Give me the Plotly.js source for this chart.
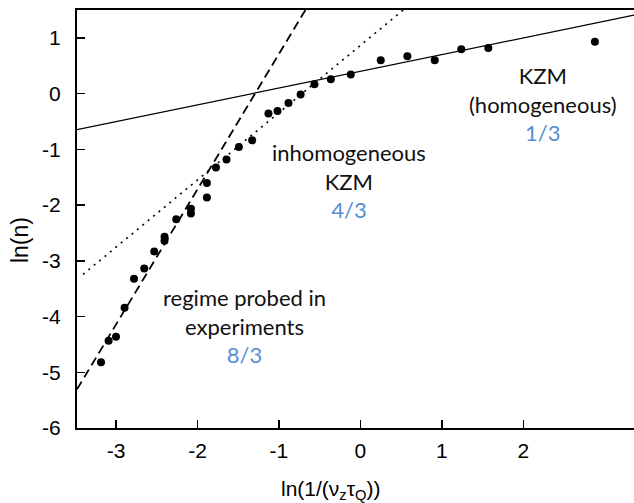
<!DOCTYPE html>
<html>
<head>
<meta charset="utf-8">
<script src="https://cdn.plot.ly/plotly-3.0.1.min.js"></script>
<style>html,body{margin:0;padding:0;background:#fff;}#chart{width:634px;height:503px;}</style>
</head>
<body>
<div id="chart"></div>
<script>
// Measured data points: ln(1/(nu_z tau_Q)) vs ln(n)
const lnInvRate = [-3.185, -3.092, -3.001, -2.896, -2.780, -2.654, -2.531, -2.405, -2.405, -2.261,
                   -2.081, -2.081, -1.885, -1.885, -1.774, -1.644, -1.492, -1.329, -1.129, -1.018,
                   -0.883, -0.734, -0.564, -0.363, -0.118, 0.250, 0.577, 0.913, 1.239, 1.571, 2.880];
const lnDensity = [-4.821, -4.434, -4.362, -3.842, -3.323, -3.136, -2.832, -2.570, -2.642, -2.253,
                   -2.068, -2.151, -1.602, -1.864, -1.326, -1.183, -0.957, -0.837, -0.358, -0.312,
                   -0.168, -0.016, 0.167, 0.256, 0.341, 0.597, 0.668, 0.597, 0.794, 0.817, 0.932];

// Guide lines (endpoints): homogeneous KZM (1/3), inhomogeneous KZM (4/3), experimental regime (8/3)
const homogLineX = [-3.48, 3.36];
const homogLineY = [-0.645, 1.407];
const inhomLineX = [-3.406, 0.527];
const inhomLineY = [-3.244, 1.5];
const expLineX = [-3.48, -0.675];
const expLineY = [-5.306, 1.5];

// Tick labels
const xTicks = [-3, -2, -1, 0, 1, 2];
const yTicks = [-6, -5, -4, -3, -2, -1, 0, 1];

// Text labels
const regionLabels = [
  {lines: ['inhomogeneous', 'KZM'], exponent: '4/3', x: -0.139, y: -1.572},
  {lines: ['regime probed in', 'experiments'], exponent: '8/3', x: -1.425, y: -4.161},
  {lines: ['KZM', '(homogeneous)'], exponent: '1/3', x: 2.242, y: -0.183}
];

const blue = '#558ED5';
const annFont = {family: 'Lato, "Open Sans", sans-serif', size: 22, color: '#111'};
const axisFont = '"Liberation Sans", Arial, sans-serif';

const traces = [
  {x: homogLineX, y: homogLineY, mode: 'lines', line: {color: '#000', width: 1.3}, hoverinfo: 'skip'},
  {x: inhomLineX, y: inhomLineY, mode: 'lines', line: {color: '#000', width: 1.6, dash: '2px,5px'}, hoverinfo: 'skip'},
  {x: expLineX, y: expLineY, mode: 'lines', line: {color: '#000', width: 1.8, dash: '9px,5px'}, hoverinfo: 'skip'},
  {x: lnInvRate, y: lnDensity, mode: 'markers', marker: {color: '#000', size: 8}}
];

const annotations = regionLabels.map(r => ({
  x: r.x, y: r.y, xref: 'x', yref: 'y', showarrow: false, align: 'center', font: annFont,
  text: r.lines.join('<br>') + '<br><span style="color:' + blue + '">' + r.exponent + '</span>'
}));
annotations.push({
  x: 0.456, y: -0.148, xref: 'paper', yref: 'paper', xanchor: 'center', yanchor: 'middle',
  showarrow: false, font: {family: axisFont, size: 21, color: '#000'},
  text: 'ln(1/(ν<sub>z</sub>τ<sub>Q</sub>))'
});
annotations.push({
  x: -0.102, y: 0.45, xref: 'paper', yref: 'paper', xanchor: 'center', yanchor: 'middle',
  textangle: -90, showarrow: false, font: {family: axisFont, size: 23, color: '#000'},
  text: 'ln(n)'
});

const layout = {
  width: 634, height: 503,
  margin: {l: 77, r: 0, t: 10, b: 75},
  paper_bgcolor: '#fff', plot_bgcolor: '#fff',
  showlegend: false,
  hovermode: false,
  font: {family: axisFont, size: 21, color: '#000'},
  xaxis: {
    range: [-3.48, 3.36], tickvals: xTicks, ticktext: xTicks.map(String),
    ticks: 'inside', ticklen: 8, tickwidth: 1.5, tickcolor: '#000',
    showline: true, linecolor: '#000', linewidth: 2, mirror: true,
    showgrid: false, zeroline: false,
    ticklabelstandoff: 3
  },
  yaxis: {
    range: [-6, 1.5], tickvals: yTicks, ticktext: yTicks.map(String),
    ticks: 'inside', ticklen: 8, tickwidth: 1.5, tickcolor: '#000',
    showline: true, linecolor: '#000', linewidth: 2, mirror: false,
    showgrid: false, zeroline: false,
    ticklabelstandoff: 10
  },
  annotations: annotations
};

Plotly.newPlot('chart', traces, layout, {staticPlot: true, displayModeBar: false});
</script>
</body>
</html>
